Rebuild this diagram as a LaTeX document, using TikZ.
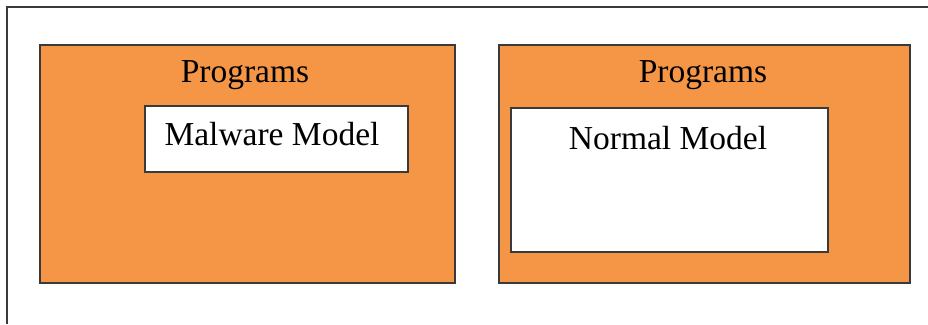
\documentclass[tikz,border=0pt]{standalone}
\usepackage{fontspec}
\setmainfont{Liberation Serif}
\definecolor{progorange}{HTML}{F59647}
\definecolor{edgegray}{HTML}{3A3A3A}

\begin{document}
\begin{tikzpicture}
	[x=1pt,y=-1pt,
	 box/.style={rectangle, draw=edgegray, line width=1.3pt, inner sep=0pt},
	 txt/.style={font=\fontsize{33.5}{40}\selectfont, inner sep=0pt}]
	\useasboundingbox (0,0) rectangle (928,324);
	\draw[edgegray, line width=1.2pt] (928,7) -- (7,7) -- (7,324);

	\node[box, fill=progorange, minimum width=415pt, minimum height=238pt] (b1) at (247.5,164) {};
	\node[box, fill=progorange, minimum width=411pt, minimum height=238pt] (b2) at (704.5,164) {};
	\node[box, fill=white, minimum width=263pt, minimum height=66pt] (m1) at (276.5,139) {};
	\node[box, fill=white, minimum width=317pt, minimum height=144pt] (m2) at (669.5,180) {};

	\node[txt] (t1) at (245,75) {Programs};
	\node[txt] (t2) at (703,75) {Programs};
	\node[txt] (t3) at (272,134) {Malware Model};
	\node[txt] (t4) at (668,138) {Normal Model};
	\end{tikzpicture}
\end{document}
